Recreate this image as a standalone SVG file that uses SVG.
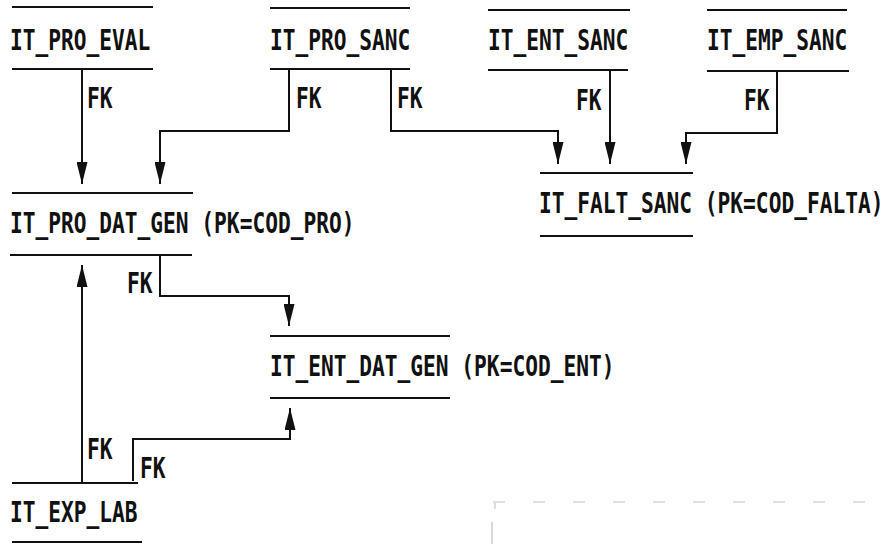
<svg xmlns="http://www.w3.org/2000/svg" width="887" height="544" viewBox="0 0 887 544">
<style>
.bg{fill:#fff}
.tl{stroke:#111;stroke-width:2.2;fill:none}
.cn{stroke:#111;stroke-width:2;fill:none;marker-end:url(#ah)}
.t{font-family:"DejaVu Sans Mono","Liberation Mono",monospace;font-weight:bold;font-size:21.2px;fill:#111}
.noise{stroke:#c4c4c4;stroke-width:1;fill:none;stroke-dasharray:12 28}
</style>
<defs>
<marker id="ah" markerUnits="userSpaceOnUse" markerWidth="22" markerHeight="11" refX="22" refY="5.5" orient="auto">
<path d="M0,0 L22,5.5 L0,11 z" fill="#111"/>
</marker>
</defs>
<rect class="bg" x="0" y="0" width="887" height="544"/>

<g id="IT_PRO_EVAL">
<line class="tl" x1="12" y1="7" x2="153" y2="7"/>
<text class="t" transform="translate(10,50) scale(1,1.32)">IT_PRO_EVAL</text>
<line class="tl" x1="12" y1="69" x2="153" y2="69"/>
</g>
<g id="IT_PRO_SANC">
<line class="tl" x1="270" y1="8" x2="410" y2="8"/>
<text class="t" transform="translate(270,50) scale(1,1.32)">IT_PRO_SANC</text>
<line class="tl" x1="270" y1="69" x2="410" y2="69"/>
</g>
<g id="IT_ENT_SANC">
<line class="tl" x1="488" y1="10" x2="630" y2="10"/>
<text class="t" transform="translate(488,50) scale(1,1.32)">IT_ENT_SANC</text>
<line class="tl" x1="488" y1="70" x2="628" y2="70"/>
</g>
<g id="IT_EMP_SANC">
<line class="tl" x1="707" y1="10" x2="847" y2="10"/>
<text class="t" transform="translate(707,50) scale(1,1.32)">IT_EMP_SANC</text>
<line class="tl" x1="707" y1="71" x2="849" y2="71"/>
</g>
<g id="IT_PRO_DAT_GEN">
<line class="tl" x1="12" y1="193" x2="193" y2="193"/>
<text class="t" transform="translate(10,233) scale(1,1.32)">IT_PRO_DAT_GEN (PK=COD_PRO)</text>
<line class="tl" x1="10" y1="255" x2="192" y2="255"/>
</g>
<g id="IT_FALT_SANC">
<line class="tl" x1="540" y1="173" x2="693" y2="173"/>
<text class="t" transform="translate(539,213) scale(1,1.32)">IT_FALT_SANC (PK=COD_FALTA)</text>
<line class="tl" x1="540" y1="236" x2="693" y2="236"/>
</g>
<g id="IT_ENT_DAT_GEN">
<line class="tl" x1="270" y1="336" x2="450" y2="336"/>
<text class="t" transform="translate(270,376) scale(1,1.32)">IT_ENT_DAT_GEN (PK=COD_ENT)</text>
<line class="tl" x1="270" y1="398" x2="450" y2="398"/>
</g>
<g id="IT_EXP_LAB">
<line class="tl" x1="12" y1="483" x2="138" y2="483"/>
<text class="t" transform="translate(10,522) scale(1,1.32)">IT_EXP_LAB</text>
<line class="tl" x1="12" y1="542" x2="142" y2="542"/>
</g>

<g id="connectors">
<path class="cn" d="M82,69 V184"/>
<path class="cn" d="M289,69 V131 H160 V184"/>
<path class="cn" d="M391,69 V131 H558 V164"/>
<path class="cn" d="M610,70 V164"/>
<path class="cn" d="M777,71 V133 H686 V164"/>
<path class="cn" d="M160,255 V296 H289 V326"/>
<path class="cn" d="M82,483 V265"/>
<path class="cn" d="M133,481 V439 H290 V408"/>
<text class="t" transform="translate(87,108) scale(1,1.32)">FK</text>
<text class="t" transform="translate(296,108) scale(1,1.32)">FK</text>
<text class="t" transform="translate(397,108) scale(1,1.32)">FK</text>
<text class="t" transform="translate(576,110) scale(1,1.32)">FK</text>
<text class="t" transform="translate(744,110) scale(1,1.32)">FK</text>
<text class="t" transform="translate(127,293) scale(1,1.32)">FK</text>
<text class="t" transform="translate(87,459) scale(1,1.32)">FK</text>
<text class="t" transform="translate(140,478) scale(1,1.32)">FK</text>
</g>

<g id="scan-marks">
<line class="noise" x1="493" y1="502" x2="887" y2="502"/>
<line stroke="#bbb" stroke-width="1" x1="495" y1="503" x2="495" y2="509"/>
<line stroke="#ccc" stroke-width="1.5" x1="492" y1="522" x2="492" y2="544"/>
</g>
</svg>
